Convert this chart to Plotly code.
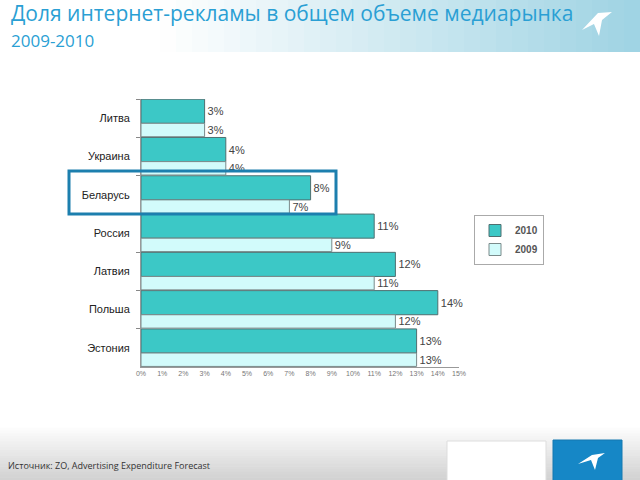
import plotly.graph_objects as go

countries = ["Литва", "Украина", "Беларусь", "Россия", "Латвия", "Польша", "Эстония"]
share_2010 = [3, 4, 8, 11, 12, 14, 13]
share_2009 = [3, 4, 7, 9, 11, 12, 13]
x_ticks = list(range(0, 16))
x_tick_labels = [f"{v}%" for v in x_ticks]

fig = go.Figure()

fig.add_trace(go.Bar(
    y=countries, x=share_2010, orientation="h", name="2010",
    marker=dict(color="#3cc8c6", line=dict(color="#4f6f70", width=1)),
    width=0.63, offset=-0.495,
    text=[f"{v}%" for v in share_2010], textposition="outside",
    textfont=dict(family="Liberation Sans, Arial", size=11, color="#444444"),
    cliponaxis=False,
))
fig.add_trace(go.Bar(
    y=countries, x=share_2009, orientation="h", name="2009",
    marker=dict(color="#d2fbfb", line=dict(color="#7a8a8a", width=1)),
    width=0.35, offset=0.135,
    text=[f"{v}%" for v in share_2009], textposition="outside",
    textfont=dict(family="Liberation Sans, Arial", size=11, color="#444444"),
    cliponaxis=False,
))

shapes = []
# header gradient (white -> light blue)
n = 40
for i in range(n):
    t = i / (n - 1)
    w = max(0.0, (t - 0.25) / 0.75)
    r = int(255 - (255 - 160) * w)
    g = int(255 - (255 - 212) * w)
    b = int(255 - (255 - 228) * w)
    shapes.append(dict(type="rect", xref="paper", yref="paper",
                       x0=-141/318 + i * (640/318) / n, x1=-141/318 + (i + 1.05) * (640/318) / n,
                       y0=(367 - 52) / 268, y1=367/268,
                       fillcolor=f"rgb({r},{g},{b})", line=dict(width=0), layer="below"))
# footer gradient (white -> light gray)
m = 20
for i in range(m):
    t = i / (m - 1)
    c = int(255 - 45 * t)
    y_top = 425 + i * 55 / m
    shapes.append(dict(type="rect", xref="paper", yref="paper",
                       x0=-141/318, x1=(640-141)/318,
                       y0=(367 - (y_top + 55/m + 0.5)) / 268, y1=(367 - y_top) / 268,
                       fillcolor=f"rgb({c},{c},{c})", line=dict(width=0), layer="below"))
# footer white box and blue box
shapes.append(dict(type="rect", xref="paper", yref="paper",
                   x0=(447-141)/318, x1=(546-141)/318, y0=(367-481)/268, y1=(367-441)/268,
                   fillcolor="white", line=dict(color="#dddddd", width=1), layer="below"))
shapes.append(dict(type="rect", xref="paper", yref="paper",
                   x0=(553-141)/318, x1=(622-141)/318, y0=(367-481)/268, y1=(367-440)/268,
                   fillcolor="#1687c6", line=dict(color="#1478b0", width=1), layer="below"))
# highlight box around Беларусь
shapes.append(dict(type="rect", xref="paper", yref="paper",
                   x0=(69-141)/318, x1=(336-141)/318, y0=(367-214)/268, y1=(367-171)/268,
                   line=dict(color="#1c7fae", width=3), fillcolor="rgba(0,0,0,0)"))

# logo swooshes (paper coordinates converted from pixels)
def px(xp, yp):
    return (xp - 141) / 318, (367 - yp) / 268

def path(points):
    s = ""
    for k, (a, b) in enumerate(points):
        xx, yy = px(a, b)
        s += ("M" if k == 0 else "L") + f"{xx:.4f},{yy:.4f} "
    return s + "Z"

shapes.append(dict(type="path", xref="paper", yref="paper",
                   path=path([(582, 30), (598, 13), (612, 12), (602, 20), (599, 36), (594, 24)]),
                   fillcolor="white", line=dict(width=0)))
shapes.append(dict(type="path", xref="paper", yref="paper",
                   path=path([(578, 464), (592, 455), (605, 453), (598, 458), (595, 470), (591, 460)]),
                   fillcolor="white", line=dict(width=0)))

annotations = [
    dict(text="Доля интернет-рекламы в общем объеме медиарынка", xref="paper", yref="paper",
         x=(9-141)/318, y=(367-13)/268, xanchor="left", yanchor="middle", showarrow=False,
         font=dict(family="Open Sans", size=21, color="#2a9fd4")),
    dict(text="2009-2010", xref="paper", yref="paper",
         x=(9-141)/318, y=(367-40)/268, xanchor="left", yanchor="middle", showarrow=False,
         font=dict(family="Open Sans", size=17, color="#2a9fd4")),
    dict(text="Источник: ZO, Advertising Expenditure Forecast", xref="paper", yref="paper",
         x=(6-141)/318, y=(367-465)/268, xanchor="left", yanchor="middle", showarrow=False,
         font=dict(family="Open Sans", size=9, color="#333333")),
]

fig.update_layout(
    width=640, height=480,
    margin=dict(l=141, r=181, t=99, b=113),
    paper_bgcolor="white", plot_bgcolor="white",
    barmode="overlay",
    showlegend=True,
    legend=dict(x=(474-141)/318, y=(367-215)/268, xanchor="left", yanchor="top",
                bordercolor="#aaaaaa", borderwidth=1, bgcolor="white",
                font=dict(family="Liberation Sans, Arial", size=10, color="#555555", weight="bold"),
                traceorder="normal", itemwidth=30, tracegroupgap=0),
    shapes=shapes,
    annotations=annotations,
    xaxis=dict(range=[0, 15], tickvals=x_ticks, ticktext=x_tick_labels,
               tickfont=dict(family="Liberation Sans, Arial", size=7, color="#777777"),
               showgrid=False, zeroline=False, showline=True, linecolor="#999999", linewidth=1,
               ticks="", fixedrange=True),
    yaxis=dict(categoryorder="array", categoryarray=countries, autorange=False, range=[6.5, -0.5],
               tickfont=dict(family="Liberation Sans, Arial", size=11, color="#222222"),
               showgrid=False, zeroline=False, showline=True, linecolor="#999999", linewidth=1,
               ticks="outside", tickson="boundaries", ticklen=4, tickcolor="#888888",
               ticklabelstandoff=8),
)

fig.write_html("out.html", config={"displayModeBar": False},
               post_script="document.body.style.margin='0';document.body.style.overflow='hidden';")
